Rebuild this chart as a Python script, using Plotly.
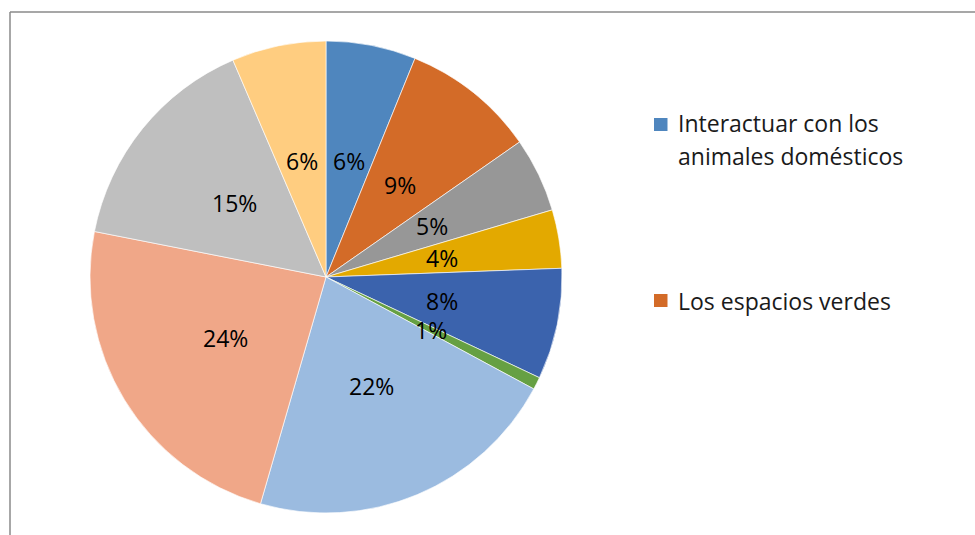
import math
import plotly.graph_objects as go

categories = [
    "Interactuar con los animales domésticos",
    "Los espacios verdes",
    "Categoría 3",
    "Categoría 4",
    "Categoría 5",
    "Categoría 6",
    "Categoría 7",
    "Categoría 8",
    "Categoría 9",
    "Categoría 10",
]
values = [6.15, 9.15, 5.1, 4.0, 7.6, 0.85, 21.6, 23.6, 15.45, 6.45]
colors = ["#4F86BE", "#D36B28", "#979797", "#E3A900", "#3B63AD",
          "#66A043", "#9BBBE0", "#F0A788", "#BFBFBF", "#FFCD80"]
legend_lines = [["Interactuar con los", "animales domésticos"], ["Los espacios verdes"]]

W, H = 975, 535
cx, cy, R = 326.0, 277.0, 236.0
FONT = "Open Sans"

fig = go.Figure()
fig.add_trace(go.Pie(
    labels=categories,
    values=values,
    sort=False,
    direction="clockwise",
    rotation=0,
    marker=dict(colors=colors, line=dict(color="rgba(255,255,255,0.8)", width=0.8)),
    textinfo="none",
    hoverinfo="label+percent",
    showlegend=False,
    domain=dict(x=[(cx - R) / W, (cx + R) / W], y=[1 - (cy + R) / H, 1 - (cy - R) / H]),
))

annotations = []
total = sum(values)
cum = 0.0
for v in values:
    mid = (cum + v / 2) / total * 2 * math.pi
    cum += v
    px = cx + 0.5 * R * math.sin(mid)
    py = cy - 0.5 * R * math.cos(mid)
    annotations.append(dict(
        x=px / W, y=1 - py / H, xref="paper", yref="paper",
        text=f"{v / total * 100:.0f}%", showarrow=False,
        xanchor="center", yanchor="middle",
        font=dict(family=FONT, size=23, color="#000000"),
    ))

shapes = []
# frame lines
shapes.append(dict(type="line", xref="paper", yref="paper",
                   x0=10 / W, x1=1, y0=1 - 12 / H, y1=1 - 12 / H,
                   line=dict(color="#8a8a8a", width=1.5)))
shapes.append(dict(type="line", xref="paper", yref="paper",
                   x0=10 / W, x1=10 / W, y0=1 - 12 / H, y1=0,
                   line=dict(color="#8a8a8a", width=1.5)))

# manual legend
square_y = [124.5, 300.5]
text_y = [[123.0, 156.0], [300.5]]
for i, lines in enumerate(legend_lines):
    sy = square_y[i]
    shapes.append(dict(type="rect", xref="paper", yref="paper",
                       x0=654 / W, x1=667.5 / W, y0=1 - (sy + 6.5) / H, y1=1 - (sy - 6.5) / H,
                       fillcolor=colors[i], line=dict(width=0)))
    for line, ty in zip(lines, text_y[i]):
        annotations.append(dict(
            x=676 / W, y=1 - ty / H, xref="paper", yref="paper",
            text=line, showarrow=False, xanchor="left", yanchor="middle", align="left",
            font=dict(family=FONT, size=23, color="#1a1a1a"),
        ))

fig.update_layout(
    width=W, height=H,
    margin=dict(l=0, r=0, t=0, b=0),
    paper_bgcolor="white",
    plot_bgcolor="white",
    annotations=annotations,
    shapes=shapes,
)

fig.write_html("out.html")
